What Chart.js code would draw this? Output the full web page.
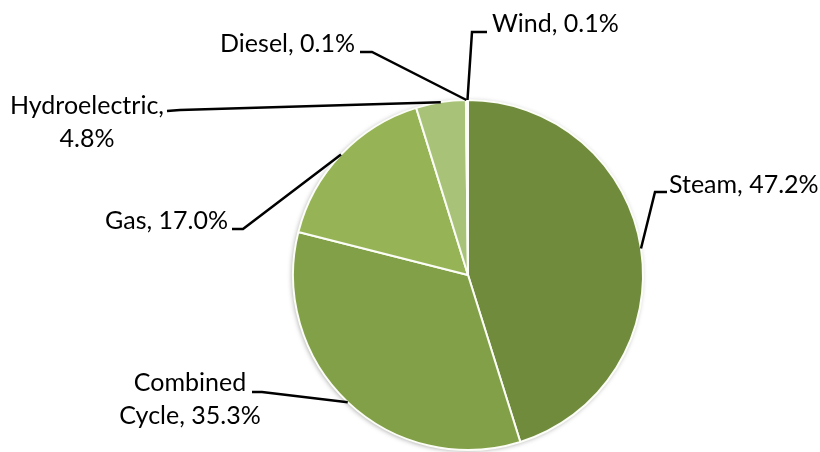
<!DOCTYPE html>
<html>
<head>
<meta charset="utf-8">
<script src="https://cdn.jsdelivr.net/npm/chart.js@4.4.1/dist/chart.umd.min.js"></script>
<style>
  html, body { margin: 0; padding: 0; background: #fff; }
  #wrap { width: 820px; height: 452px; }
</style>
</head>
<body>
<div id="wrap"><canvas id="pie" width="820" height="452"></canvas></div>
<script>
// values (percent, as labelled)
var categories = ['Steam', 'Combined Cycle', 'Gas', 'Hydroelectric', 'Diesel', 'Wind'];
var shares = [47.2, 35.3, 17.0, 4.8, 0.1, 0.1];
var sliceColors = ['#708b3c', '#82a048', '#96b455', '#a8c378', '#bcd197', '#c8daa8'];

// label text lines, split like in the original
var labelLines = [
    ['Steam, 47.2%'],
    ['Combined', 'Cycle, 35.3%'],
    ['Gas, 17.0%'],
    ['Hydroelectric,', '4.8%'],
    ['Diesel, 0.1%'],
    ['Wind, 0.1%']
];

// where each label sits, relative to the pie centre:
// knee = bend of the leader, tail = end of leader, text = first baseline point
var labelPos = [
    {knee: [187, -83], tail: [199, -83], text: [201, -82], align: 'left'},
    {knee: [-206, 117], tail: [-216, 117], text: [-278, 116], align: 'center'},
    {knee: [-225, -46], tail: [-236, -46], text: [-240, -46], align: 'right'},
    {knee: [-288, -165], tail: [-301, -164], text: [-381, -161], align: 'center'},
    {knee: [-96, -223], tail: [-108, -223], text: [-113, -223], align: 'right'},
    {knee: [4, -243], tail: [19, -243], text: [24, -243], align: 'left'}
];

var FONT = '25px Lato';
var LINE_H = 33;

var leaders = {
    id: 'leaders',
    beforeDatasetsDraw: function(chart){
        var arc = chart.getDatasetMeta(0).data[0];
        if(!arc) return;
        var ctx = chart.ctx;
        ctx.save();
        ctx.shadowColor = 'rgba(0,0,0,0.35)';
        ctx.shadowBlur = 5;
        ctx.shadowOffsetX = -1;
        ctx.shadowOffsetY = 1;
        ctx.fillStyle = '#ffffff';
        ctx.beginPath();
        ctx.arc(arc.x, arc.y, arc.outerRadius, 0, Math.PI*2);
        ctx.fill();
        ctx.restore();
    },
    afterDatasetsDraw: function(chart){
        var ctx = chart.ctx;
        var arcs = chart.getDatasetMeta(0).data;
        ctx.save();
        ctx.strokeStyle = '#000';
        ctx.lineWidth = 2.5;
        ctx.fillStyle = '#000';
        ctx.font = FONT;
        ctx.textBaseline = 'alphabetic';
        for(var i=0; i<arcs.length; i++){
            var a = arcs[i];
            var p = labelPos[i];
            var mid = (a.startAngle + a.endAngle) / 2;
            var ex = a.x + Math.cos(mid) * a.outerRadius;
            var ey = a.y + Math.sin(mid) * a.outerRadius;
            ctx.beginPath();
            ctx.moveTo(ex, ey);
            ctx.lineTo(a.x + p.knee[0], a.y + p.knee[1]);
            ctx.lineTo(a.x + p.tail[0], a.y + p.tail[1]);
            ctx.stroke();
            ctx.textAlign = p.align;
            var lines = labelLines[i];
            for(var j=0; j<lines.length; j++){
                ctx.fillText(lines[j], a.x + p.text[0], a.y + p.text[1] + j*LINE_H);
            }
        }
        ctx.restore();
    }
};

var ctx = document.getElementById('pie').getContext('2d');
var myChart = new Chart(ctx, {
    type: 'pie',
    data: {
        labels: categories,
        datasets: [{
            data: shares,
            backgroundColor: sliceColors,
            borderColor: '#fbfdf6',
            borderWidth: 2,
            hoverOffset: 0
        }]
    },
    options: {
        responsive: false,
        animation: false,
        radius: 175,
        layout: {
            padding: {left: 116, right: 0, top: 98, bottom: 0}
        },
        plugins: {
            legend: {display: false},
            tooltip: {enabled: false}
        }
    },
    plugins: [leaders]
});
</script>
</body>
</html>
